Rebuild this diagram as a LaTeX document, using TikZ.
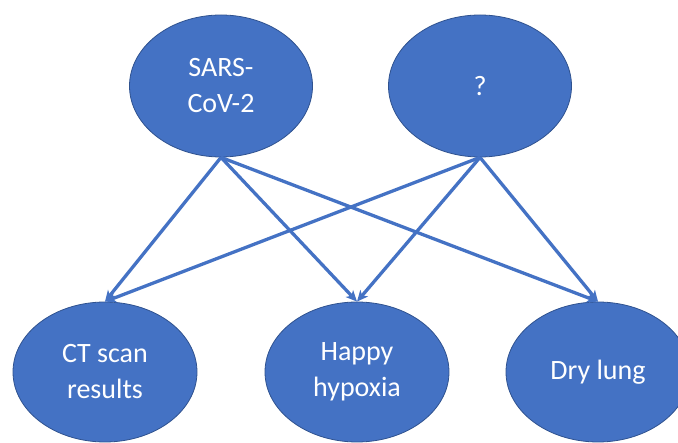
\documentclass[tikz,border=0pt]{standalone}
\usepackage{fontspec}
\setmainfont{Carlito}
\usepackage{tikz}
\usetikzlibrary{shapes, arrows.meta, positioning}
\definecolor{officeblue}{HTML}{4472C4}
\definecolor{officeedge}{HTML}{2F528F}
\tikzstyle{cause} = [draw=officeedge, fill=officeblue, line width=0.8pt, ellipse, inner sep=0pt, minimum width=183pt, minimum height=142pt, text=white, align=center, font=\fontsize{28}{36}\selectfont]
\tikzstyle{effect} = [cause, minimum width=184pt, minimum height=140pt]
\tikzstyle{link} = [draw=officeblue, line width=3.3pt, -{Stealth[length=11pt,width=10pt,inset=3pt]}]

\begin{document}
\begin{tikzpicture}
	\clip (0pt,0pt) rectangle (678pt,-443pt);
	% top row
	\node [cause] (sars) at (221pt,-86pt) {SARS-\\CoV-2};
	\node [cause] (unknown) at (480pt,-86pt) {?};
	% bottom row
	\node [effect] (ct) at (105pt,-372pt) {CT scan\\results};
	\node [effect] (happy) at (357pt,-372pt) {Happy\\hypoxia};
	\node [effect] (dry) at (598pt,-372pt) {Dry lung};
	% links
	\draw [link] (sars.south) -- (ct.north);
	\draw [link] (sars.south) -- (happy.north);
	\draw [link] (sars.south) -- (dry.north);
	\draw [link] (unknown.south) -- (ct.north);
	\draw [link] (unknown.south) -- (happy.north);
	\draw [link] (unknown.south) -- (dry.north);
\end{tikzpicture}
\end{document}
